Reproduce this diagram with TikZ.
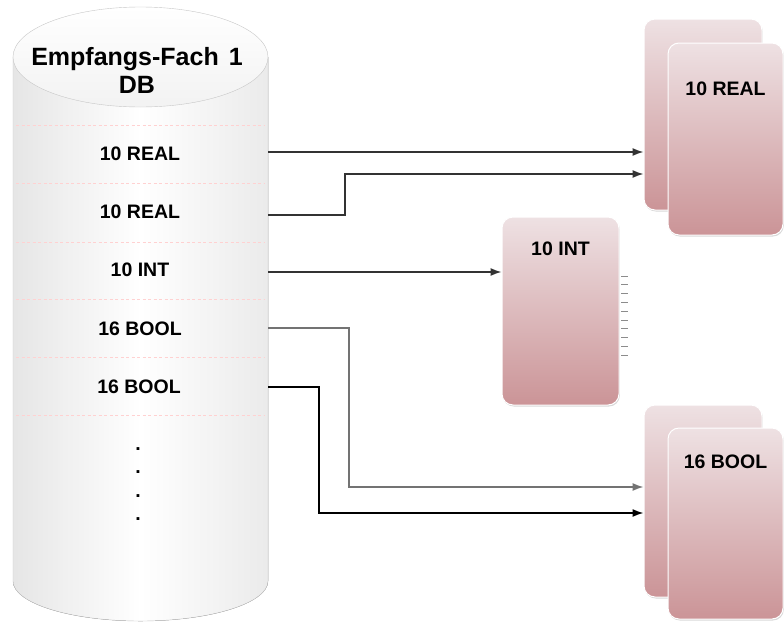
\documentclass[tikz,border=0pt]{standalone}
\usepackage{fontspec}
\setmainfont{Liberation Sans}
\usetikzlibrary{arrows.meta,shadows}
\definecolor{boxtop}{RGB}{238,225,227}
\definecolor{boxbottom}{RGB}{203,148,151}

\begin{document}
\begin{tikzpicture}[x=1pt,y=-1pt,
  lbl/.style={font=\fontsize{19.5}{22}\selectfont\bfseries,inner sep=0pt},
  fach/.style={rounded corners=11pt,top color=boxtop,bottom color=boxbottom,
    draw=white,line width=1pt,inner sep=0pt,
    font=\fontsize{19.5}{22}\selectfont\bfseries,
    drop shadow={opacity=.3,shadow xshift=.8pt,shadow yshift=-1.5pt}},
  conn/.style={draw=black!80,line width=1.4pt,-{Latex[length=11pt,width=8pt]}}]
\fill[white] (0,0) rectangle (784,624);
\useasboundingbox (0,0) rectangle (784,624);

% receiving DB
\fill[left color=black!10,right color=black!8,middle color=white]
  (13,57) -- (13,581) arc[start angle=180,end angle=360,x radius=127.5pt,y radius=40pt]
  -- (268,57) -- cycle;
\draw[black!22] (13,57) -- (13,581)
  arc[start angle=180,end angle=360,x radius=127.5pt,y radius=40pt] -- (268,57);
\draw[black!22,top color=white,bottom color=black!5]
  (140.5,57) ellipse [x radius=127.5pt,y radius=50pt];
\node[font=\fontsize{25}{28}\selectfont\bfseries,align=center] (title) at (137,70)
  {Empfangs-Fach\hspace{10pt}1\\DB};
\foreach \y in {125,183,242,299,357,415}
  \draw[red!18,dash pattern=on 3pt off 2.5pt] (16,\y) -- (265,\y);

\node[lbl] (real1) at (140,154) {10 REAL};
\node[lbl] (real2) at (140,212) {10 REAL};
\node[lbl] (int1)  at (140,270) {10 INT};
\node[lbl] (bool1) at (140,328.5) {16 BOOL};
\node[lbl] (bool2) at (139,386.5) {16 BOOL};
\foreach \y [count=\i] in {449,472,496,519}
  \node[lbl] (dot\i) at (138,\y) {.};

% target boxes
\node[fach,minimum width=118pt,text height=1pt,text depth=190pt] (realback) at (703,114.5) {};
\node[fach,minimum width=115pt,text height=52pt,text depth=140pt] (realfront) at (725.5,139) {10 REAL};
\node[fach,minimum width=117pt,text height=38pt,text depth=150pt] (intbox) at (560.5,311) {10 INT};
\node[fach,minimum width=118pt,text height=1pt,text depth=191pt] (boolback) at (703,501) {};
\node[fach,minimum width=115pt,text height=40pt,text depth=151pt] (boolfront) at (725.5,523.5) {16 BOOL};
\foreach \k in {0,...,9}
  \draw[black!45,line width=.8pt] (621,276+8.8*\k) -- ++(6.5,0);

% connections
\coordinate (o1) at (268,152);
\coordinate (o2) at (268,215);
\coordinate (o3) at (268,272);
\coordinate (o4) at (268,328);
\coordinate (o5) at (268,387);
\draw[conn] (o1) -- (o1 -| realback.west);
\draw[conn] (o2) -- ++(77,0) |- ([yshift=-59.5pt]realback.west);
\draw[conn] (o3) -- (o3 -| intbox.west);
\draw[conn,draw=black!55] (o4) -- ++(81,0) |- ([yshift=14pt]boolback.west);
\draw[conn,draw=black] (o5) -- ++(51,0) |- ([yshift=-12pt]boolback.west);
\end{tikzpicture}
\end{document}
